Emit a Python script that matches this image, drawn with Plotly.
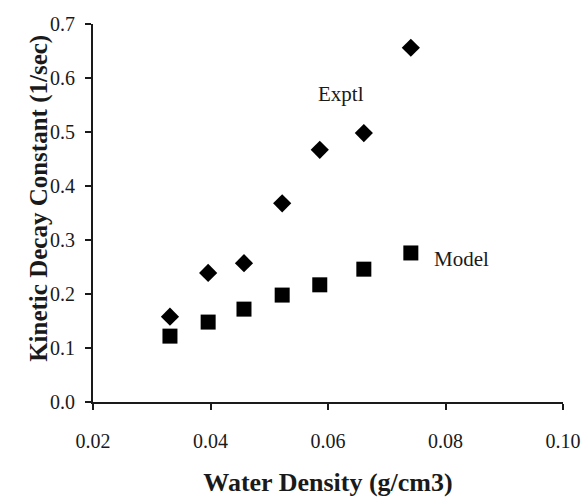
import plotly.graph_objects as go

density = [0.0331, 0.0396, 0.0457, 0.0522, 0.0586, 0.0661, 0.0741]
exptl = [0.158, 0.239, 0.257, 0.368, 0.467, 0.498, 0.656]
model = [0.122, 0.148, 0.172, 0.198, 0.217, 0.246, 0.276]

x_ticks = [0.02, 0.04, 0.06, 0.08, 0.10]
y_ticks = [0.0, 0.1, 0.2, 0.3, 0.4, 0.5, 0.6, 0.7]

font = "Liberation Serif, Times New Roman, serif"
ink = "#1a1a1a"

fig = go.Figure()
fig.add_trace(go.Scatter(x=density, y=exptl, mode="markers", name="Exptl",
                         marker=dict(symbol="diamond", size=14, color="black")))
fig.add_trace(go.Scatter(x=density, y=model, mode="markers", name="Model",
                         marker=dict(symbol="square", size=15, color="black")))

fig.add_annotation(x=0.0622, y=0.570, text="Exptl", showarrow=False,
                   font=dict(family=font, size=21, color=ink))
fig.add_annotation(x=0.0777, y=0.265, text="Model", showarrow=False, xanchor="left",
                   font=dict(family=font, size=21, color=ink))
# y-axis title placed as rotated annotation (sits slightly above plot centre in the reference)
fig.add_annotation(xref="paper", yref="paper", x=-0.149, y=0.54,
                   text="<b>Kinetic Decay Constant (1/sec)</b>", textangle=-90, showarrow=False,
                   font=dict(family=font, size=25, color=ink))

fig.update_layout(
    width=584, height=497,
    margin=dict(l=93, r=21, t=24, b=95, autoexpand=False),
    paper_bgcolor="white", plot_bgcolor="white",
    showlegend=False,
    font=dict(family=font, size=20, color=ink),
    xaxis=dict(range=[0.02, 0.10], tickvals=x_ticks, tickformat=".2f", automargin=False,
               showgrid=False, zeroline=False, showline=True, linecolor=ink, linewidth=2,
               ticks="outside", ticklen=6, tickwidth=2, tickcolor=ink,
               ticklabelstandoff=14,
               title=dict(text="<b>Water Density (g/cm3)</b>", font=dict(family=font, size=26), standoff=27)),
    yaxis=dict(range=[0, 0.7], tickvals=y_ticks, tickformat=".1f", automargin=False,
               showgrid=False, zeroline=False, showline=True, linecolor=ink, linewidth=2,
               ticks="outside", ticklen=6, tickwidth=2, tickcolor=ink,
               ticklabelstandoff=6),
)

fig.write_html("out.html")
